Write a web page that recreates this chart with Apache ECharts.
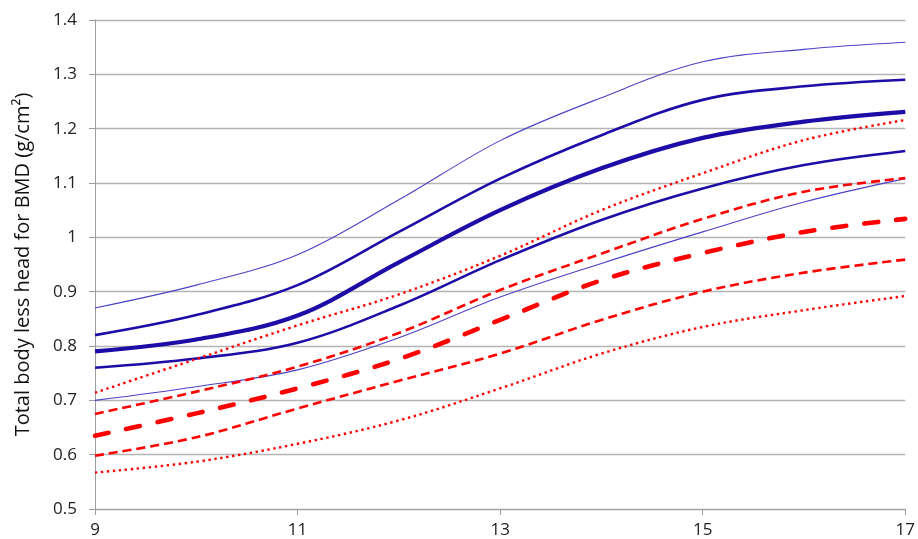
<!DOCTYPE html>
<html><head><meta charset="utf-8">
<script src="https://cdn.jsdelivr.net/npm/echarts@6/dist/echarts.min.js"></script>
<style>html,body{margin:0;padding:0;background:#fff}#c{width:918px;height:539px}</style>
</head><body><div id="c"></div>
<script>
const ages = [9, 10, 11, 12, 13, 14, 15, 16, 17];
const blue1 = [0.870, 0.912, 0.968, 1.069, 1.178, 1.257, 1.323, 1.346, 1.359];
const blue2 = [0.820, 0.857, 0.912, 1.010, 1.108, 1.188, 1.253, 1.278, 1.290];
const blue3 = [0.790, 0.812, 0.856, 0.954, 1.050, 1.127, 1.183, 1.213, 1.231];
const blue4 = [0.760, 0.777, 0.806, 0.874, 0.958, 1.032, 1.090, 1.133, 1.159];
const blue5 = [0.700, 0.725, 0.756, 0.815, 0.890, 0.952, 1.010, 1.065, 1.108];
const red1 = [0.714, 0.776, 0.838, 0.895, 0.966, 1.050, 1.118, 1.179, 1.216];
const red2 = [0.675, 0.716, 0.762, 0.824, 0.903, 0.970, 1.034, 1.084, 1.109];
const red3 = [0.635, 0.676, 0.722, 0.776, 0.848, 0.921, 0.971, 1.010, 1.034];
const red4 = [0.598, 0.632, 0.685, 0.736, 0.786, 0.848, 0.900, 0.935, 0.959];
const red5 = [0.567, 0.587, 0.620, 0.663, 0.722, 0.786, 0.835, 0.866, 0.892];
const yTicks = ['0.5','0.6','0.7','0.8','0.9','1','1.1','1.2','1.3','1.4'];

const BLUE = '#1e0ca6', BLUE_THIN = '#4c42c6', RED = '#ff0000';
function mk(name, vals, color, width, type, cap) {
  return {
    name, type: 'line', smooth: 0.35, symbol: 'none', silent: true,
    data: ages.map((a, i) => [a, vals[i]]),
    lineStyle: { color, width, type: type || 'solid', cap: cap || 'butt' },
    z: 3
  };
}
const chart = echarts.init(document.getElementById('c'), null, { renderer: 'canvas' });
chart.setOption({
  animation: false,
  textStyle: { fontFamily: 'Open Sans' },
  grid: { left: 95, right: 12, top: 20, bottom: 30, containLabel: false },
  xAxis: {
    type: 'value', min: 9, max: 17, interval: 2,
    axisLine: { show: true, lineStyle: { color: '#9c9c9c', width: 1 } },
    axisTick: { show: true, length: 6, lineStyle: { color: '#9c9c9c' } },
    axisLabel: { color: '#222', fontSize: 17, margin: 13, fontFamily: 'Open Sans' },
    splitLine: { show: false }
  },
  yAxis: {
    type: 'value', min: 0.5, max: 1.4, interval: 0.1,
    name: 'Total body less head for BMD (g/cm\u00b2)',
    nameLocation: 'middle', nameGap: 62, nameRotate: 90,
    nameTextStyle: { color: '#111', fontSize: 20, fontFamily: 'Open Sans' },
    axisLine: { show: true, lineStyle: { color: '#9c9c9c', width: 1 } },
    axisTick: { show: true, length: 6, lineStyle: { color: '#9c9c9c' } },
    axisLabel: { color: '#222', fontSize: 17, margin: 18, fontFamily: 'Open Sans',
      formatter: (v) => yTicks[Math.round((v - 0.5) * 10)] },
    splitLine: { show: true, lineStyle: { color: '#b4b4b4', width: 1.3 } }
  },
  series: [
    mk('P97 boys', blue1, BLUE_THIN, 1.1),
    mk('P90 boys', blue2, BLUE, 2.6),
    mk('P50 boys', blue3, BLUE, 4.2),
    mk('P10 boys', blue4, BLUE, 2.6),
    mk('P3 boys', blue5, BLUE_THIN, 1.1),
    mk('P97 girls', red1, RED, 2.4, [2.4, 3.6]),
    mk('P90 girls', red2, RED, 2.6, [9, 5]),
    mk('P50 girls', red3, RED, 4.6, [14, 18], 'round'),
    mk('P10 girls', red4, RED, 2.6, [9, 5]),
    mk('P3 girls', red5, RED, 2.4, [2.4, 3.6])
  ]
});
</script></body></html>
